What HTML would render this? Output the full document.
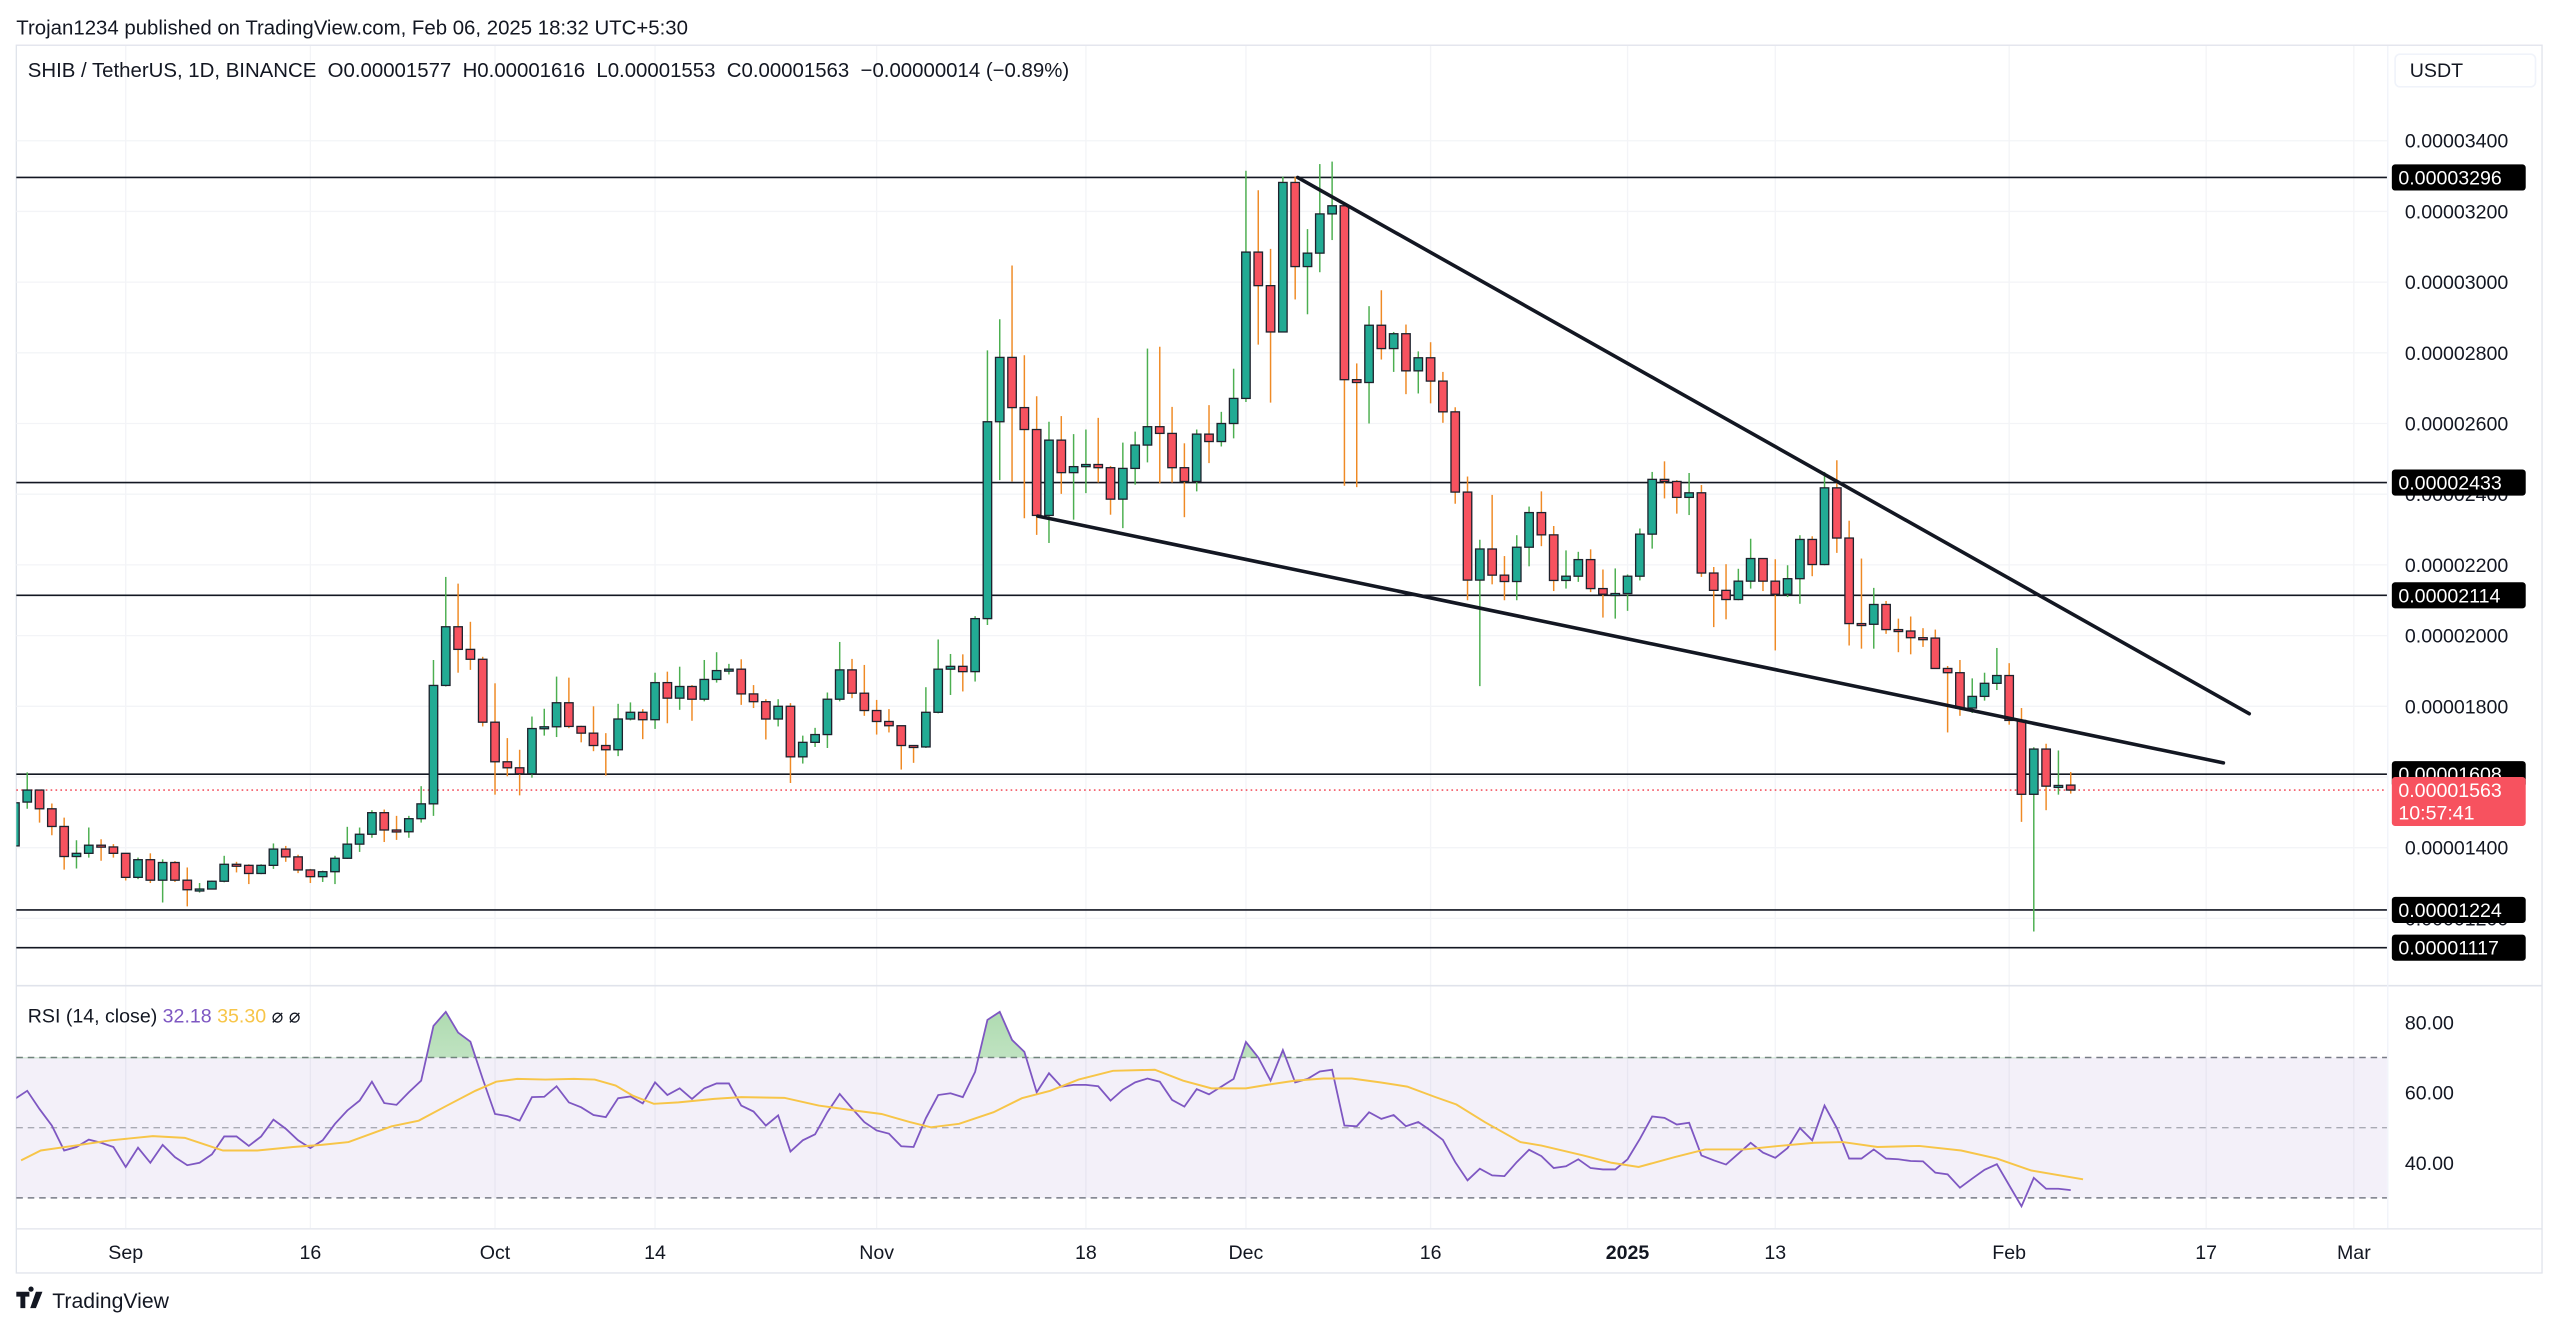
<!DOCTYPE html>
<html><head><meta charset="utf-8">
<style>
html,body{margin:0;padding:0;background:#fff;}
svg{display:block;font-family:"Liberation Sans",Arial,sans-serif;}
</style></head>
<body>
<svg id="chart" xmlns="http://www.w3.org/2000/svg" width="2560" height="1328" viewBox="0 0 1568 813">
  <defs>
    <clipPath id="mainClip"><rect x="10" y="28" width="1452" height="575"/></clipPath>
    <clipPath id="rsiClip"><rect x="10" y="604" width="1452" height="148"/></clipPath>
    <clipPath id="aboveClip"><rect x="10" y="604" width="1452" height="44"/></clipPath>
    <linearGradient id="ob" x1="0" y1="0" x2="0" y2="1">
      <stop offset="0" stop-color="#4caf50" stop-opacity="0.45"/>
      <stop offset="1" stop-color="#4caf50" stop-opacity="0.05"/>
    </linearGradient>
  </defs>
  <text x="10" y="21" font-size="12.5" fill="#131722">Trojan1234 published on TradingView.com, Feb 06, 2025 18:32 UTC+5:30</text>
  <rect x="10" y="27.5" width="1547" height="752" fill="none" stroke="#e0e3eb" stroke-width="0.8"/>
  <g id="grid"></g>
  <g id="levels"></g>
  <g id="candles" clip-path="url(#mainClip)"></g>
  <g id="trend" clip-path="url(#mainClip)"></g>
  <line x1="10" y1="603.5" x2="1557" y2="603.5" stroke="#e0e3eb" stroke-width="1"/>
  <line x1="1462.5" y1="28" x2="1462.5" y2="752" stroke="#f0f3fa" stroke-width="0.8"/>
  <line x1="10" y1="752.5" x2="1557" y2="752.5" stroke="#e0e3eb" stroke-width="0.8"/>
  <g id="rsi"></g>
  <g id="paxis"></g>
  <g id="taxis"></g>
  <text x="17" y="47" font-size="12.5" fill="#131722" xml:space="preserve">SHIB / TetherUS, 1D, BINANCE  O0.00001577  H0.00001616  L0.00001553  C0.00001563  −0.00000014 (−0.89%)</text>
  <rect x="1467" y="33" width="86" height="20" rx="3" fill="#fff" stroke="#f0f3fa"/>
  <text x="1476" y="47" font-size="12" fill="#131722">USDT</text>
  <text x="17" y="626" font-size="12" fill="#131722">RSI (14, close) <tspan fill="#7e57c2">32.18</tspan> <tspan fill="#f7c548">35.30</tspan> <tspan fill="#131722">⌀ ⌀</tspan></text>
  <g>
    <path d="M10 791h8v3h-2.5v7h-3v-7H10z M19 791a1.6 1.6 0 1 1 0.01 0z M22 791h4l-4 10h-3.5z" fill="#131722"/>
    <text x="32" y="801" font-size="13" fill="#131722">TradingView</text>
  </g>
</svg>
<script>
var opens=[14.05,15.29,15.63,15.10,14.60,13.75,13.84,14.07,14.02,13.84,13.16,13.66,13.08,13.58,13.08,12.81,12.83,13.05,13.53,13.50,13.27,13.50,13.96,13.74,13.37,13.18,13.32,13.70,14.10,14.38,14.99,14.50,14.45,14.82,15.24,18.59,20.25,19.61,19.33,17.55,16.43,16.26,16.09,17.37,17.42,18.10,17.43,17.24,16.89,16.77,17.64,17.83,17.62,18.67,18.23,18.56,18.20,18.76,19.01,19.05,18.35,18.13,17.64,18.00,16.57,16.98,17.20,18.20,19.03,18.37,17.88,17.57,17.45,16.89,16.85,17.83,19.05,19.13,18.98,20.48,
26.05,27.87,26.45,25.83,23.40,25.53,24.61,24.78,24.84,24.75,23.86,24.73,25.39,25.91,25.72,24.75,24.36,25.70,25.49,26.00,26.71,30.85,29.90,28.59,32.82,30.44,30.82,31.93,32.16,27.24,27.16,28.78,28.12,28.54,27.49,27.86,27.20,26.33,24.06,21.57,22.45,21.71,21.53,22.50,23.48,22.85,
21.56,21.68,22.15,21.33,21.17,21.19,21.68,22.87,24.42,24.36,23.91,24.04,21.77,21.28,21.02,21.54,22.18,21.54,21.17,21.61,22.72,22.01,24.18,22.76,20.34,20.32,20.88,20.17,20.13,19.94,19.93,19.07,18.95,17.95,18.28,18.65,18.87,17.60,15.51,16.79,15.74,15.77];
var highs=[15.30,16.13,15.63,15.25,14.85,14.21,14.57,14.24,14.10,13.84,13.72,13.84,13.67,13.62,13.44,13.00,13.07,13.77,13.60,13.53,13.53,14.12,14.05,13.80,13.40,13.35,13.77,14.59,14.57,15.06,15.08,14.90,14.90,15.74,19.31,21.66,21.47,20.39,19.40,18.65,17.10,16.77,17.71,17.93,18.84,18.81,17.45,18.00,17.24,18.07,18.11,17.92,18.95,18.98,19.12,18.60,19.31,19.53,19.20,19.33,18.60,18.20,18.20,18.09,17.17,17.39,18.39,19.82,19.34,19.17,18.18,17.92,17.45,16.90,18.54,19.89,19.48,19.47,20.55,28.07,
28.95,30.47,27.93,26.77,26.05,26.21,25.70,25.83,26.16,24.80,25.46,25.77,28.12,28.17,26.47,25.44,25.83,26.52,26.33,27.55,33.15,32.60,30.94,32.98,32.98,31.50,33.34,33.41,32.16,27.70,29.32,29.77,28.59,28.80,28.04,28.30,27.46,26.46,24.50,22.71,23.98,22.25,22.84,23.65,24.08,23.10,
22.41,22.37,22.44,21.87,21.90,21.73,23.03,24.63,24.93,24.40,24.60,24.26,21.94,22.02,21.89,22.74,22.18,22.16,21.99,22.84,22.81,24.63,24.96,23.25,22.18,21.35,20.98,20.48,20.54,20.21,20.17,19.14,19.31,18.79,18.95,19.65,19.22,17.95,16.84,16.94,16.75,16.14];
var lows=[13.90,15.10,14.71,14.35,13.38,13.41,13.72,13.63,13.72,13.07,13.11,13.00,12.45,13.03,12.34,12.73,12.83,13.02,13.30,12.97,13.25,13.40,13.60,13.28,13.00,13.03,12.97,13.68,13.88,14.28,14.16,14.22,14.28,14.71,14.90,18.56,18.95,19.03,17.43,15.50,16.02,15.48,15.98,17.17,17.13,17.38,16.98,16.73,16.04,16.59,17.60,17.07,17.36,17.52,17.90,17.59,18.14,18.67,18.90,18.04,17.95,17.06,17.43,15.83,16.38,16.85,16.82,18.14,18.23,17.73,17.20,17.26,16.21,16.40,16.82,17.80,18.32,18.42,18.70,20.30,
24.40,24.36,23.32,22.85,22.62,24.01,23.28,24.03,24.33,23.42,23.04,24.27,24.90,24.31,24.33,23.35,24.08,24.88,25.35,25.58,26.61,28.23,26.59,28.59,29.51,29.09,30.28,31.19,24.24,24.20,26.00,27.81,27.46,26.83,26.85,26.57,26.02,23.73,21.00,18.57,21.45,21.00,21.00,21.96,22.53,21.26,
21.33,21.52,21.23,20.51,20.48,20.70,21.56,22.46,23.88,23.45,23.41,21.66,20.24,20.46,21.00,21.33,21.26,19.58,21.09,20.90,21.68,21.99,22.34,19.72,19.63,19.63,20.05,19.53,19.47,19.68,19.06,17.26,17.73,17.81,18.16,18.46,17.48,14.73,11.63,15.06,15.50,15.53];
var closes=[15.27,15.63,15.10,14.60,13.75,13.84,14.07,14.02,13.84,13.16,13.66,13.08,13.58,13.08,12.81,12.83,13.05,13.53,13.50,13.27,13.50,13.96,13.74,13.37,13.18,13.32,13.70,14.10,14.38,14.99,14.50,14.45,14.82,15.24,18.59,20.25,19.61,19.33,17.55,16.43,16.26,16.09,17.37,17.42,18.10,17.43,17.24,16.89,16.77,17.64,17.83,17.62,18.67,18.23,18.56,18.20,18.76,19.01,19.05,18.35,18.13,17.64,18.00,16.57,16.98,17.20,18.20,19.03,18.37,17.88,17.57,17.45,16.89,16.85,17.83,19.05,19.13,18.98,20.48,26.05,
27.87,26.45,25.83,23.40,25.53,24.61,24.78,24.84,24.75,23.86,24.73,25.39,25.91,25.72,24.75,24.36,25.70,25.49,26.00,26.71,30.85,29.90,28.59,32.82,30.44,30.82,31.93,32.16,27.24,27.16,28.78,28.12,28.54,27.49,27.86,27.20,26.33,24.06,21.57,22.45,21.71,21.53,22.50,23.48,22.85,21.56,
21.68,22.15,21.33,21.17,21.19,21.68,22.87,24.42,24.36,23.91,24.04,21.77,21.28,21.02,21.54,22.18,21.54,21.17,21.61,22.72,22.01,24.18,22.76,20.34,20.32,20.88,20.17,20.13,19.94,19.93,19.07,18.95,17.95,18.28,18.65,18.87,17.60,15.51,16.79,15.74,15.76,15.63];
var rsiValues=[58.2,60.5,55.3,50.6,43.5,44.5,46.6,45.7,44.5,38.8,44.3,40.0,45.1,41.6,39.3,40.0,42.4,47.5,47.5,44.8,47.5,52.3,49.7,46.4,44.2,46.4,51.1,54.9,57.7,63.1,57.0,56.5,60.1,63.4,79.0,83.0,77.1,74.5,63.9,53.9,53.3,52.0,58.7,58.8,61.8,57.2,55.8,53.6,53.0,58.4,58.9,56.9,62.9,59.3,61.2,58.2,61.2,62.6,62.6,56.3,54.6,50.6,53.5,43.2,46.4,48.1,54.4,59.6,55.5,51.6,49.2,48.3,44.7,44.5,52.7,59.3,59.8,58.7,65.9,80.7,83.0,75.0,71.6,60.1,65.5,61.7,62.2,
62.2,61.8,57.7,60.8,62.9,64.0,63.1,57.9,56.0,61.0,59.5,61.7,63.9,74.4,70.0,63.4,72.1,62.9,63.9,66.0,66.5,50.6,50.4,54.4,52.5,53.6,50.4,51.6,49.2,46.5,40.2,35.0,38.3,36.4,36.2,40.2,43.7,41.9,38.5,39.0,41.0,38.5,38.1,38.1,41.0,46.8,53.2,52.8,50.9,51.4,42.1,40.7,39.5,42.6,45.7,42.9,41.4,44.2,49.9,46.4,56.3,49.9,41.2,41.2,43.8,41.2,41.0,40.5,40.4,37.2,36.7,32.9,35.5,38.0,39.6,33.6,27.6,35.7,32.6,32.6,32.2];
var maDays=[0.5,2.1,4.9,7.8,11.2,13.8,16.9,19.7,22.6,24.9,27.1,30.6,32.8,35.1,37.4,39.1,40.8,43.1,45.4,47.1,48.8,50.2,51.9,53.9,56.8,59.0,62.5,65.3,68.2,70.4,72.7,74.4,76.7,79.5,81.8,84.1,86.4,89.2,92.6,94.9,97.2,100.0,101.7,104.0,106.3,108.6,110.9,113.1,115.4,117.1,119.4,122.3,124.0,127.4,129.7,131.9,134.8,137.3,140.5,143.3,146.2,148.5,151.3,154.7,158.1,161.0,163.8,168.0];
var maValues=[40.7,43.5,44.9,46.4,47.6,47.1,43.5,43.5,44.5,45.1,45.9,50.4,52.0,56.3,60.5,63.1,63.9,63.7,63.9,63.7,62.0,59.1,56.8,57.2,58.2,58.7,58.5,56.3,54.9,53.9,51.6,50.1,51.1,54.4,58.4,60.5,63.7,66.2,66.5,63.4,61.2,61.2,62.2,63.4,64.0,64.0,62.9,61.7,58.7,56.6,51.6,45.9,44.9,42.1,40.0,38.8,41.6,43.8,43.8,44.8,45.7,45.9,44.5,44.8,43.5,41.2,37.8,35.3];
var priceTicks=[34,32,30,28,26,24,22,20,18,16,14,12];
var levelPrices=[32.96,24.33,21.14,16.08,12.24,11.17];
var levelLabels=["0.00003296","0.00002433","0.00002114","0.00001608","0.00001224","0.00001117"];
var rsiTicks=[80,60,40];
var timeTickDays=[0,15,30,43,61,78,91,106,122,134,153,169,181];
var timeTickLabels=["Sep","16","Oct","14","Nov","18","Dec","16","2025","13","Feb","17","Mar"];
var trendUpper=[[105.2,32.96],[182.5,17.79]];
var trendLower=[[84.1,23.38],[180.4,16.40]];
var lastPrice=15.63;

var NS="http://www.w3.org/2000/svg";
function yP(v){return 86+(34-v)*21.65;}
function xI(i){return 77+(i-10)*7.54;}
function xD(d){return 77+d*7.54;}
function yR(r){return 626+(80-r)*2.15;}
function mk(tag,attrs,parent){var e=document.createElementNS(NS,tag);for(var k in attrs)e.setAttribute(k,attrs[k]);parent.appendChild(e);return e;}

var grid=document.getElementById('grid');
priceTicks.forEach(function(t){
  var l=mk('line',{x1:10,x2:1462,y1:yP(t),y2:yP(t),stroke:'#f3f4f7','stroke-width':0.8},grid);
  
  
});
timeTickDays.forEach(function(d){
  var l=mk('line',{x1:xD(d),x2:xD(d),y1:28,y2:752,stroke:'#f3f4f7','stroke-width':0.8},grid);
  
  
});

var lv=document.getElementById('levels');
levelPrices.forEach(function(p){
  var l=mk('line',{x1:10,x2:1462,y1:yP(p),y2:yP(p),stroke:'#131722','stroke-width':1},lv);
  
  
});
var cp=mk('line',{x1:10,x2:1462,y1:yP(lastPrice),y2:yP(lastPrice),stroke:'#f23645','stroke-width':0.8,'stroke-dasharray':'1 2'},lv);



var cg=document.getElementById('candles');
for(var i=0;i<closes.length;i++){
  var idx=i+1,cx=xI(idx),o=opens[i],c=closes[i],up=c>=o;
  var w=mk('line',{x1:cx,x2:cx,y1:yP(highs[i]),y2:yP(lows[i]),stroke:up?'#4caf50':'#ef8a25','stroke-width':0.9},cg);
  
  
  var bTop=yP(Math.max(o,c)),bH=Math.max(1.2,Math.abs(yP(o)-yP(c)));
  var b=mk('rect',{x:cx-2.6,y:bTop,width:5.2,height:bH,fill:up?'#22ab94':'#f7525f',stroke:'#1e222d','stroke-width':0.8},cg);
  
  
}

var tg=document.getElementById('trend');
[trendUpper,trendLower].forEach(function(t,k){
  var l=mk('line',{x1:xI(t[0][0]),y1:yP(t[0][1]),x2:xI(t[1][0]),y2:yP(t[1][1]),stroke:'#131722','stroke-width':2.2,'stroke-linecap':'round'},tg);
  
  
});

var rg=document.getElementById('rsi');
var band=mk('rect',{x:10,y:yR(70),width:1452,height:yR(30)-yR(70),fill:'#7e57c2','fill-opacity':0.09},rg);


[70,50,30].forEach(function(r){
  var l=mk('line',{x1:10,x2:1462,y1:yR(r),y2:yR(r),stroke:'#787b86','stroke-width':0.9,'stroke-dasharray':'4 3','stroke-opacity':r===50?0.6:1},rg);
  
  
});
var pts=rsiValues.map(function(v,i){return xI(i+1).toFixed(2)+','+yR(v).toFixed(2);});
var area=mk('polygon',{points:xI(1)+','+yR(70)+' '+pts.join(' ')+' '+xI(rsiValues.length)+','+yR(70),fill:'url(#ob)','clip-path':'url(#aboveClip)'},rg);


var rl=mk('polyline',{points:pts.join(' '),fill:'none',stroke:'#7e57c2','stroke-width':1.1,'clip-path':'url(#rsiClip)'},rg);


var mpts=maValues.map(function(v,i){return xI(maDays[i]+1).toFixed(2)+','+yR(v).toFixed(2);});
var ml=mk('polyline',{points:mpts.join(' '),fill:'none',stroke:'#f7c548','stroke-width':1.2,'clip-path':'url(#rsiClip)'},rg);



var pa=document.getElementById('paxis');
priceTicks.forEach(function(t){
  var s=mk('text',{x:1473,y:yP(t)+4.3,'font-size':12,fill:'#131722'},pa);
  s.textContent='0.0000'+(t*100).toFixed(0);
  
  
});
levelPrices.forEach(function(p,k){
  var y=yP(p);
  var r=mk('rect',{x:1465,y:y-8,width:82,height:16,rx:2,fill:'#000'},pa);
  
  
  var s=mk('text',{x:1469,y:y+4.3,'font-size':12,fill:'#fff'},pa);
  s.textContent=levelLabels[k];
  
  
});
var yl=yP(lastPrice);
var lr=mk('rect',{x:1465,y:yl-8,width:82,height:30,rx:2,fill:'#f7525f'},pa);


var lt=mk('text',{x:1469,y:yl+4.3,'font-size':12,fill:'#fff'},pa);
lt.textContent='0.00001563';


var ct=mk('text',{x:1469,y:yl+18,'font-size':12,fill:'#fff'},pa);
ct.textContent='10:57:41';


rsiTicks.forEach(function(r){
  var s=mk('text',{x:1473,y:yR(r)+4.3,'font-size':12,fill:'#131722'},pa);
  s.textContent=r.toFixed(2);
  
  
});

var ta=document.getElementById('taxis');
timeTickDays.forEach(function(d,k){
  var s=mk('text',{x:xD(d),y:771,'font-size':12,fill:'#131722','text-anchor':'middle','font-weight':timeTickLabels[k]==='2025'?'bold':'normal'},ta);
  s.textContent=timeTickLabels[k];
  
  
});
</script>
</body></html>
